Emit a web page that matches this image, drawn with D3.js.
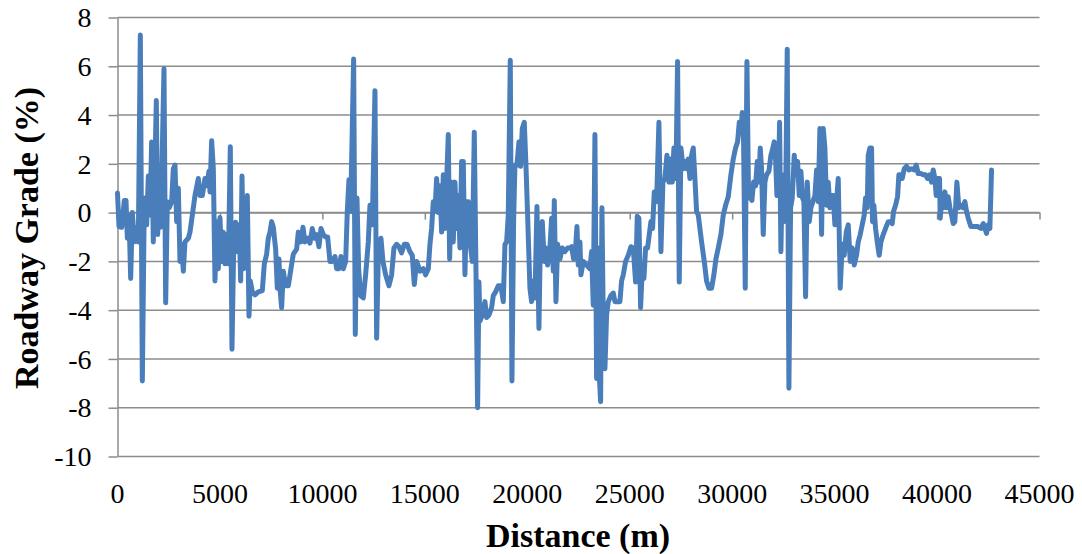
<!DOCTYPE html>
<html>
<head>
<meta charset="utf-8">
<style>
    body { margin: 0; background: #fff; }
    svg { display: block; }
    text { font-family: "Liberation Serif", "Times New Roman", serif; fill: #000; }
    .tick text { font-size: 28px; }
    .title { font-size: 34px; font-weight: bold; }
</style>
</head>
<body>
<svg width="1082" height="554"></svg>
<script src="https://d3js.org/d3.v7.min.js"></script>
<script>

    // distance along the route (m) and roadway grade (%)
    var distance = [
        0, 73, 203, 333, 415, 480, 561, 643, 724, 822, 935, 1017, 1114, 1212, 1310, 1423,
        1505, 1586, 1667, 1749, 1895, 1960, 2042, 2107, 2269, 2351, 2432, 2530, 2643, 2725,
        2806, 2887, 2969, 3050, 3131, 3213, 3294, 3457, 3538, 3782, 3945, 4026, 4140, 4270,
        4368, 4465, 4514, 4595, 4677, 4758, 4839, 4921, 5002, 5083, 5165, 5246, 5327, 5409,
        5506, 5588, 5669, 5767, 5864, 5946, 6011, 6076, 6157, 6255, 6336, 6417, 6482, 6580,
        6710, 6873, 7068, 7166, 7280, 7361, 7442, 7524, 7605, 7719, 7800, 7881, 7930, 8012,
        8093, 8207, 8337, 8467, 8581, 8662,
        8743, 8825, 8955, 9052, 9150, 9280, 9394, 9508, 9605, 9719, 9833, 9931, 10045, 10159,
        10256, 10370, 10484, 10614, 10695, 10809, 10907, 11021, 11135, 11216, 11297, 11379,
        11525, 11606, 11688, 11769, 11867, 11997, 12111, 12241, 12322, 12436, 12566, 12647,
        12729, 12859, 12956, 13087, 13249, 13379, 13493, 13623, 13737, 13867, 13998, 14128,
        14274, 14388, 14486, 14599, 14762, 14925, 15039, 15169, 15250, 15331, 15413, 15494,
        15575, 15657, 15738, 15819, 15901, 15982, 16063, 16145, 16210, 16307, 16389, 16470,
        16551, 16633, 16714, 16796, 16877, 16958, 17040, 17121, 17202, 17316, 17414,
        17576, 17641, 17690, 17804, 17934, 18015, 18129, 18259, 18341, 18455, 18585, 18714,
        18829, 18910, 18991, 19073, 19171, 19252, 19333, 19398, 19496, 19593, 19675, 19756,
        19854, 19935, 20016, 20130, 20211, 20293, 20374, 20472, 20569, 20651, 20732, 20830,
        20911, 20992, 21106, 21187, 21269, 21318, 21399, 21480, 21594, 21708, 21838, 21968,
        22082, 22163, 22261, 22359, 22424, 22489, 22570, 22619, 22733, 22895, 23058, 23139,
        23221, 23302, 23383, 23465, 23514, 23579, 23644, 23725, 23790, 23871, 23953, 24083,
        24197, 24278, 24408, 24522, 24603, 24685, 24799, 24929, 25059, 25173, 25287, 25368,
        25449, 25531, 25612, 25693, 25775, 25872, 25954, 26035, 26116, 26198,
        26311, 26425, 26523, 26620, 26718, 26816, 26913, 26995, 27076, 27157, 27255, 27336,
        27417, 27499, 27613, 27694, 27775, 27857, 27938, 28019, 28101, 28182, 28263, 28345,
        28507, 28638, 28751, 28865, 28995, 29109, 29207, 29321, 29451, 29565, 29679, 29809,
        29939, 30053, 30167, 30264, 30346, 30427, 30492, 30557, 30638, 30720, 30801, 30882,
        30964, 31045, 31143, 31224, 31305, 31370, 31435, 31517, 31598, 31679, 31793, 31891,
        31988, 32053, 32119, 32184, 32249, 32314, 32379, 32444, 32525, 32607, 32688, 32769,
        32851, 32932, 33030, 33111, 33192, 33274, 33355, 33436, 33501, 33583, 33664, 33762,
        33843, 33941, 34038, 34120, 34201, 34282, 34364, 34445, 34526, 34608, 34689, 34770,
        34851, 34933, 35014,
        35177, 35274, 35372, 35469, 35567, 35665, 35762, 35860, 35958, 36071, 36153, 36250,
        36348, 36446, 36511, 36592, 36641, 36722, 36803, 36852, 36917, 36999, 37096, 37177,
        37259, 37373, 37487, 37617, 37747, 37812, 37877, 37975, 38072, 38137, 38219, 38300,
        38398, 38511, 38625, 38755, 38885, 38983, 39081, 39211, 39325, 39439, 39536, 39650,
        39731, 39813, 39894, 39959, 40024, 40122, 40154, 40219, 40301, 40382, 40463, 40545,
        40626, 40707, 40789, 40870, 40968, 41065, 41163, 41260, 41358, 41439, 41521, 41651,
        41813, 41976, 42139, 42253, 42334, 42415, 42497, 42578, 42660
    ];

    var grade = [
        0.8, -0.57, -0.6, 0.5, 0.5, -1.05, -0.1, -2.7, 0, -1.2, -0.6, -1.2, 7.28, -6.9, 0.6, -0.5,
        1.5, -0.1, 2.9, -1.2, 4.6, -0.9, 1.0, -0.6, 5.9, -3.7, 0.45, 0.2, 0.45, 1.8,
        1.95, -0.37, 1.0, -2.0, -1.3, -2.4, -1.2, -1.05, -0.8, 0.7, 1.4, 0.7, 0.7, 1.4,
        1.1, 1.7, 0.85, 2.95, 1.8, -2.8, -0.37, -2.3, -0.2, -2.0, -0.8, -2.1, -0.9, -2.1,
        2.7, -5.6, -1.5, -0.4, -1.6, -0.5, -2.8, 1.5, -2.3, -0.5, 0.7, -4.25, -2.8, -3.25,
        -3.37, -3.25, -3.2, -2.1, -1.7, -1.05, -0.8, -0.37, -0.6, -1.5, -3.1, -1.9, -3.1, -3.9,
        -2.4, -3.0, -3.0, -2.3, -1.7, -1.6,
        -1.5, -0.8, -1.2, -0.6, -1.2, -1.05, -1.25, -0.65, -1.05, -0.9, -1.4, -0.65, -0.9, -1.0,
        -1.0, -2.0, -2.0, -1.8, -2.3, -2.3, -1.8, -2.3, -2.0, 0.05, 1.35, 0.05,
        6.3, -5.0, 0.6, -2.3, -3.4, -3.5, -2.55, -1.2, 0.3, -0.5, 5.0, -5.15,
        -1.75, -1.05, -2.0, -2.55, -3.0, -2.55, -1.45, -1.3, -1.4, -1.65, -1.3, -1.3,
        -1.6, -1.75, -2.95, -2.0, -2.4, -2.3, -2.55, -2.3, -1.3, -0.65, 0.45, 0.05,
        1.4, 0, 1.1, -0.8, 1.55, -0.65, 1.25, 3.2, -1.9, 1.25, -1.2, 1.25,
        -0.65, 0.7, -1.45, 2.1, 2.1, -2.55, 0.45, 0.45, -1.2, -2.0, 3.3,
        -8.0, -2.85, -4.45, -4.2, -3.65, -4.3, -4.2, -3.9, -3.4, -3.25, -3.0, -3.0,
        -3.65, -1.3, -1.2, -0.1, 6.25, -6.9, -0.37, 1.95, 1.95, 2.9, 1.9, 3.45,
        3.7, 1.95, -0.1, -3.1, -3.65, -2.8, -3.5, 0.25, -4.75, -0.5, -0.37, -2.0,
        -1.45, -2.15, -1.45, -0.23, -2.4, 0.5, -3.65, -1.3, -1.9, -1.45, -1.6, -1.45,
        -1.45, -1.4, -1.9, -1.45, -0.57, -2.15, -1.2, -2.55, -2.0, -2.15, -2.3, -1.6,
        -3.8, 3.2, -6.8, -1.45, -6.65, -7.75, 0.2, -5.55, -6.4, -4.2, -3.65, -3.4,
        -3.3, -3.65, -3.65, -3.65, -2.8, -2.55, -2.0, -1.75, -1.4, -1.45, -2.85, -0.15,
        -0.23, -3.9, -2.3, -2.7, -1.45, -1.45, -0.9, -0.37, -0.65, 0.85,
        0.45, 3.7, -1.6, 1.25, 1.4, 2.35, 1.25, 2.2, 1.25, 2.65, 1.4, 6.2,
        -2.85, 2.65, 1.8, 2.1, 1.8, 2.2, 1.4, 2.35, 2.65, 1.4, 0.05, -0.1,
        -1.2, -2.0, -2.8, -3.1, -3.1, -2.55, -1.9, -1.45, -0.9, -0.1, 0.3, 0.65,
        1.55, 2.2, 2.65, 2.9, 3.7, 3.3, 4.1, 2.9, -3.1, 6.2, 0.6, 0.85,
        0.5, 1.25, 1.1, 2.1, 1.25, 2.65, 1.8, -0.9, 1.25, 1.55, 1.7, 2.35,
        2.65, 2.9, 2.2, 0.7, 0.7, 3.7, -1.6, 1.55, -0.37, 0.2, 6.7, -7.2,
        0.2, 0.6, 2.35, 1.55, 2.1, 0.7, 1.7, 0.6, 0.45, -3.45, 1.25, -0.37,
        0.2, 0.45, 0.7, 1.75, 0.45, 3.45, -0.9, 3.45, 2.65, 0.3, 1.25, 0.2,
        0.7, 0.7, -0.5,
        1.4, -3.1, -1.3, -1.75, -0.8, -0.5, -2.0, -1.45, -2.15, -1.75, -1.2, -0.9,
        -0.5, -0.1, 0.6, 0.2, 2.35, 2.65, 2.65, -0.37, 0.3, -0.65, -1.3, -1.75,
        -1.2, -0.9, -0.65, -0.37, -0.37, -0.45, 0.05, 0.3, 0.65, 1.55, 1.55, 1.4,
        1.8, 1.9, 1.75, 1.8, 1.75, 1.95, 1.6, 1.6, 1.55, 1.55, 1.4, 1.55,
        1.25, 1.75, 1.4, 0.7, 1.4, 1.4, -0.23, 0.45, 0.2, 0.85, 0.2, 0.65,
        0.2, -0.1, -0.45, -0.37, 1.25, 0.2, 0.3, 0.2, 0.45, 0.05, -0.23, -0.57,
        -0.57, -0.57, -0.65, -0.45, -0.65, -0.85, -0.5, -0.65, 1.75
    ];

    var xTicks = [0, 5000, 10000, 15000, 20000, 25000, 30000, 35000, 40000, 45000];
    var yTicks = [-10, -8, -6, -4, -2, 0, 2, 4, 6, 8];

    var svg = d3.select("svg"),
        gridColor = "#8c8c8c";

    var x = d3.scaleLinear()
        .domain([0, 45000])
        .range([117.5, 1039.5]);

    var y = d3.scaleLinear()
        .domain([-10, 8])
        .range([456.5, 17.5]);

    svg.append("rect")
        .attr("width", 1082)
        .attr("height", 554)
        .attr("fill", "#fff");

    // horizontal gridlines
    svg.append("g")
        .selectAll("line")
        .data(yTicks)
        .enter().append("line")
        .attr("x1", x(0))
        .attr("x2", x(45000))
        .attr("y1", function(d) { return y(d); })
        .attr("y2", function(d) { return y(d); })
        .attr("stroke", gridColor)
        .attr("stroke-width", 1.5);

    // y axis with ticks and labels
    var yAxis = svg.append("g")
        .attr("transform", "translate(" + x(0) + ",0)")
        .call(d3.axisLeft(y)
            .tickValues(yTicks)
            .tickSize(9)
            .tickSizeOuter(0)
            .tickPadding(17)
            .tickFormat(function(d) { return String(d); }));
    yAxis.select(".domain").attr("stroke", gridColor).attr("stroke-width", 1.5);
    yAxis.selectAll(".tick line").attr("stroke", gridColor).attr("stroke-width", 1.5);
    yAxis.selectAll(".tick text").attr("font-size", 28).attr("dy", "0.33em");

    // horizontal axis crosses at zero
    var xAxis = svg.append("g")
        .attr("transform", "translate(0," + y(0) + ")")
        .call(d3.axisBottom(x)
            .tickValues(xTicks)
            .tickSize(7)
            .tickSizeOuter(0)
            .tickFormat(""));
    xAxis.select(".domain").attr("stroke", gridColor).attr("stroke-width", 1.5);
    xAxis.selectAll(".tick line").attr("stroke", gridColor).attr("stroke-width", 1.5);

    // distance labels sit below the plot
    svg.append("g")
        .selectAll("text")
        .data(xTicks)
        .enter().append("text")
        .attr("x", function(d) { return x(d); })
        .attr("y", 503)
        .attr("text-anchor", "middle")
        .attr("font-size", 28)
        .text(function(d) { return String(d); });

    svg.append("path")
        .datum(d3.range(distance.length))
        .attr("fill", "none")
        .attr("stroke", "#4a7ebb")
        .attr("stroke-width", 5)
        .attr("stroke-linejoin", "round")
        .attr("stroke-linecap", "round")
        .attr("d", d3.line()
            .x(function(i) { return x(distance[i]); })
            .y(function(i) { return y(grade[i]); }));

    svg.append("text")
        .attr("class", "title")
        .attr("x", 578)
        .attr("y", 547)
        .attr("text-anchor", "middle")
        .text("Distance (m)");

    svg.append("text")
        .attr("class", "title")
        .attr("transform", "translate(38,238) rotate(-90)")
        .attr("text-anchor", "middle")
        .text("Roadway Grade (%)");

</script>
</body>
</html>
